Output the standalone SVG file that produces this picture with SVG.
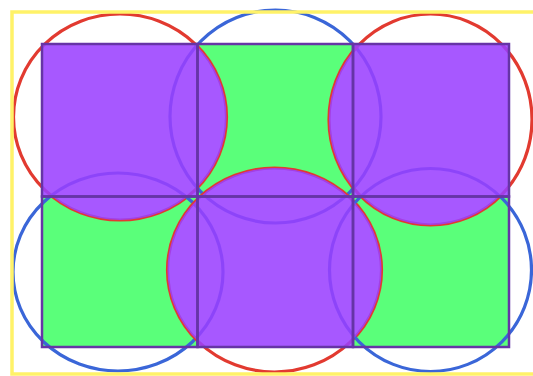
<svg xmlns="http://www.w3.org/2000/svg" width="533" height="376" viewBox="0 0 533 376">
  <style>
    .green { fill: #5aff7a; }
    .purple { fill: #9a40ff; }
    .red { fill: none; stroke: #e23a30; stroke-width: 3.2; }
    .blue { fill: none; stroke: #3a66d8; stroke-width: 3.2; }
    .outline { fill: none; stroke: #6634a6; stroke-width: 2.5; }
    .frame { fill: none; stroke: #fff268; stroke-width: 3.5; }
  </style>
  <defs>
    <clipPath id="gridClip">
      <rect x="42" y="44" width="467" height="303"/>
    </clipPath>
    <mask id="notPurple" maskUnits="userSpaceOnUse" x="0" y="0" width="533" height="376">
      <rect x="0" y="0" width="533" height="376" fill="#fff"/>
      <ellipse cx="120" cy="117" rx="106.5" ry="103" fill="#000"/>
      <ellipse cx="430.5" cy="119.5" rx="101.5" ry="105.5" fill="#000"/>
      <ellipse cx="274.5" cy="270" rx="107" ry="102" fill="#000"/>
    </mask>
  </defs>

  <rect width="533" height="376" fill="#ffffff"/>

  <g id="green-squares" mask="url(#notPurple)">
    <rect id="sq2" class="green" x="197.5" y="44" width="155.5" height="152.5"/>
    <rect id="sq4" class="green" x="42" y="196.5" width="155.5" height="150.5"/>
    <rect id="sq6" class="green" x="353" y="196.5" width="156" height="150.5"/>
  </g>

  <g id="circles">
    <ellipse id="c1" class="red" cx="120" cy="117" rx="106.5" ry="103"/>
    <ellipse id="c2" class="blue" cx="275.5" cy="116.5" rx="105.5" ry="106.5"/>
    <ellipse id="c3" class="red" cx="430.5" cy="119.5" rx="101.5" ry="105.5"/>
    <ellipse id="c4" class="blue" cx="118" cy="272" rx="105" ry="99"/>
    <ellipse id="c5" class="red" cx="274.5" cy="270" rx="107" ry="102"/>
    <ellipse id="c6" class="blue" cx="430.5" cy="270" rx="101" ry="101.5"/>
  </g>

  <g id="purple-regions" opacity="0.87" clip-path="url(#gridClip)">
    <rect id="sq1" class="purple" x="42" y="44" width="155.5" height="152.5"/>
    <rect id="sq3" class="purple" x="353" y="44" width="156" height="152.5"/>
    <rect id="sq5" class="purple" x="197.5" y="196.5" width="155.5" height="150.5"/>
    <ellipse class="purple" cx="120" cy="117" rx="106.5" ry="103"/>
    <ellipse class="purple" cx="430.5" cy="119.5" rx="101.5" ry="105.5"/>
    <ellipse class="purple" cx="274.5" cy="270" rx="107" ry="102"/>
  </g>

  <g id="square-outlines">
    <rect class="outline" x="42" y="44" width="155.5" height="152.5"/>
    <rect class="outline" x="197.5" y="44" width="155.5" height="152.5"/>
    <rect class="outline" x="353" y="44" width="156" height="152.5"/>
    <rect class="outline" x="42" y="196.5" width="155.5" height="150.5"/>
    <rect class="outline" x="197.5" y="196.5" width="155.5" height="150.5"/>
    <rect class="outline" x="353" y="196.5" width="156" height="150.5"/>
  </g>

  <rect id="frame" class="frame" x="12" y="12" width="540" height="362"/>
</svg>
